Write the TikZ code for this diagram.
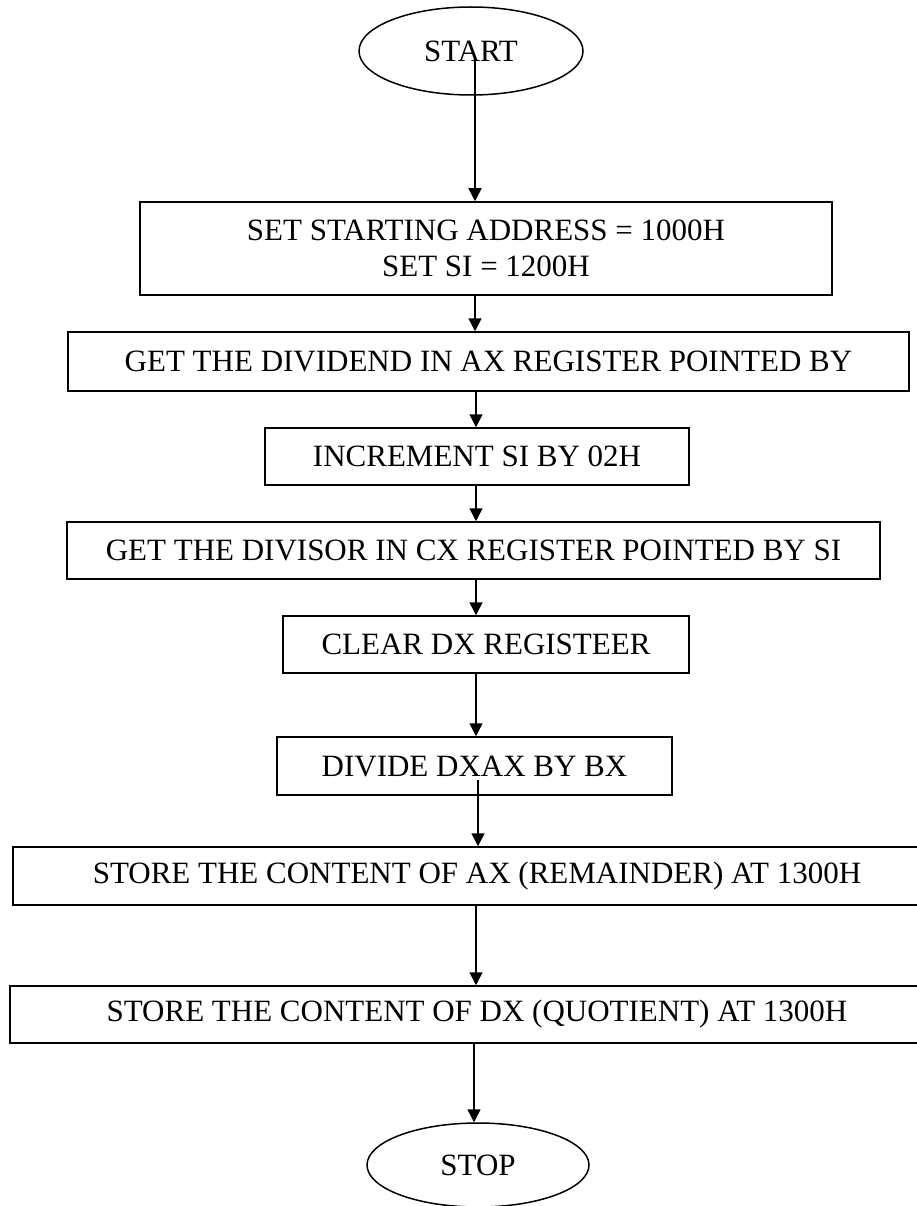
\documentclass[tikz,border=0pt]{standalone}
\usepackage{fontspec}
\setmainfont{Liberation Serif}
\usetikzlibrary{shapes.geometric,arrows.meta}
\begin{document}
\begin{tikzpicture}[x=1pt,y=-1pt,
  every node/.style={font=\fontsize{31}{36}\selectfont},
  procbox/.style={draw, line width=1.5pt, rectangle, inner sep=0pt, align=center},
  terminal/.style={draw, line width=1.5pt, ellipse, inner sep=0pt},
  flow/.style={line width=1.5pt, -{Triangle[length=13pt,width=13pt]}}]
\useasboundingbox (0,0) rectangle (917,1206);

% terminals
\node[terminal, minimum width=224pt, minimum height=88pt] (start) at (471,51) {START};
\node[terminal, minimum width=222pt, minimum height=84pt] (stop) at (478,1165) {STOP};

% process steps
\node[procbox, minimum width=692pt, minimum height=93pt] (b1) at (486,248.5)
  {SET STARTING ADDRESS = 1000H\\SET SI = 1200H};
\node[procbox, minimum width=841pt, minimum height=59pt] (b2) at (488.5,361.5)
  {GET THE DIVIDEND IN AX REGISTER POINTED BY};
\node[procbox, minimum width=424pt, minimum height=57pt] (b3) at (477,456.5)
  {INCREMENT SI BY 02H};
\node[procbox, minimum width=813pt, minimum height=57pt] (b4) at (473.5,550.5)
  {GET THE DIVISOR IN CX REGISTER POINTED BY SI};
\node[procbox, minimum width=406pt, minimum height=57pt] (b5) at (486,644.5)
  {CLEAR DX REGISTEER};
\node[procbox, minimum width=395pt, minimum height=58pt] (b6) at (474.5,766)
  {DIVIDE DXAX BY BX};
\node[procbox, minimum width=928pt, minimum height=58pt] (b7) at (477,876)
  {STORE THE CONTENT OF AX (REMAINDER) AT 1300H};
\node[procbox, minimum width=934pt, minimum height=57pt] (b8) at (477,1014.5)
  {STORE THE CONTENT OF DX (QUOTIENT) AT 1300H};

% connector origins and axis
\coordinate (s0) at (475,58);
\coordinate (d0) at (478,780);
\coordinate (ax) at (476,0);
\coordinate (ay) at (474,0);

% connectors
\draw[flow] (s0) -- (b1.north -| s0);
\draw[flow] (b1.south -| s0) -- (b2.north -| s0);
\draw[flow] (b2.south -| ax) -- (b3.north -| ax);
\draw[flow] (b3.south -| ax) -- (b4.north -| ax);
\draw[flow] (b4.south -| ax) -- (b5.north -| ax);
\draw[flow] (b5.south -| ax) -- (b6.north -| ax);
\draw[flow] (d0) -- (b7.north -| d0);
\draw[flow] (b7.south -| ax) -- (b8.north -| ax);
\draw[flow] (b8.south -| ay) -- (stop.north -| ay);
\end{tikzpicture}
\end{document}
